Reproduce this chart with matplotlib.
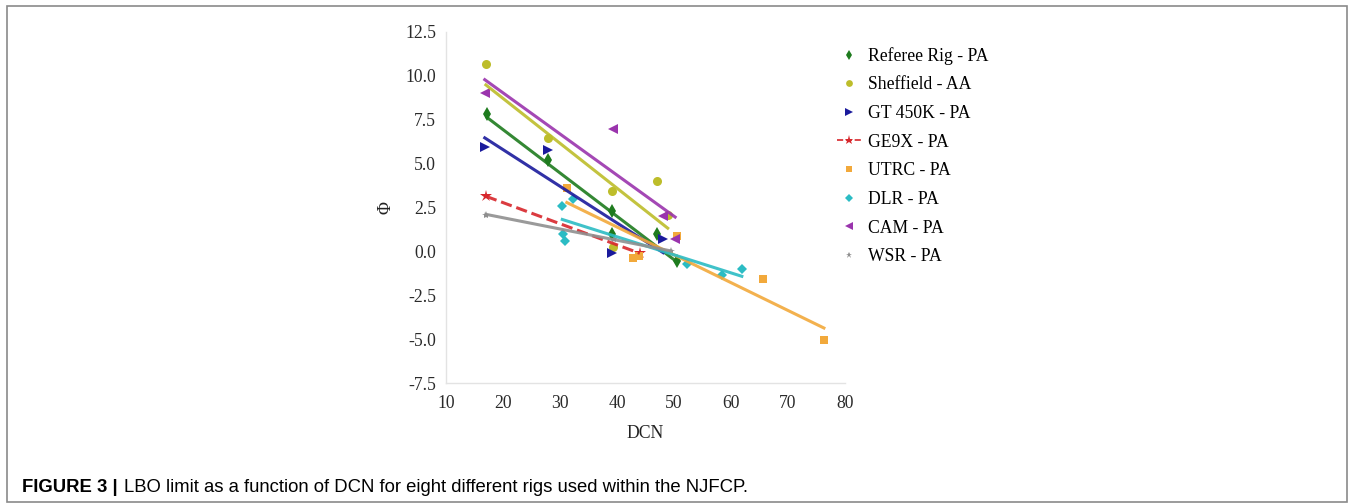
import numpy as np
import matplotlib
matplotlib.use("Agg")
from matplotlib import pyplot as plt
from matplotlib.lines import Line2D
from matplotlib.patches import Rectangle

# LBO limit (phi) against DCN, one pair of lists per rig
referee_dcn = [17.2, 27.9, 39.1, 39.1, 47.0, 50.5]
referee_phi = [7.8, 5.2, 2.3, 1.0, 1.0, -0.57]

sheffield_dcn = [17.0, 27.9, 39.1, 39.3, 47.0, 48.9]
sheffield_phi = [10.7, 6.46, 3.43, 0.23, 4.0, 2.1]

gt450k_dcn = [16.8, 27.9, 39.1, 48.1]
gt450k_phi = [5.95, 5.8, -0.1, 0.7]

ge9x_dcn = [17.0, 44.0]
ge9x_phi = [3.14, -0.11]

utrc_dcn = [31.2, 42.8, 43.8, 50.5, 65.6, 76.3]
utrc_phi = [3.6, -0.4, -0.25, 0.9, -1.6, -5.05]

dlr_dcn = [30.4, 30.5, 30.9, 32.3, 52.3, 58.4, 61.9]
dlr_phi = [2.6, 1.0, 0.6, 3.0, -0.74, -1.33, -1.03]

cam_dcn = [16.8, 39.3, 48.1, 50.2]
cam_phi = [9.0, 7.0, 2.0, 0.7]

wsr_dcn = [17.0, 39.5, 49.5]
wsr_phi = [2.1, 0.7, 0.0]

rigs = [
    # label, x, y, marker, size, colour, trendline style
    ("Referee Rig - PA", referee_dcn, referee_phi, "d", 7, "#1e7b1e", "-"),
    ("Sheffield - AA", sheffield_dcn, sheffield_phi, "o", 6.5, "#bdbd2a", "-"),
    ("GT 450K - PA", gt450k_dcn, gt450k_phi, ">", 7, "#1a1a9c", "-"),
    ("GE9X - PA", ge9x_dcn, ge9x_phi, "*", 9, "#d7262b", "--"),
    ("UTRC - PA", utrc_dcn, utrc_phi, "s", 6, "#f2a93b", "-"),
    ("DLR - PA", dlr_dcn, dlr_phi, "D", 5, "#2bbcc4", "-"),
    ("CAM - PA", cam_dcn, cam_phi, "<", 7, "#9a34ad", "-"),
    ("WSR - PA", wsr_dcn, wsr_phi, "*", 6, "#8f8f8f", "-"),
]

serif = ["Liberation Serif", "DejaVu Serif"]
plt.rcParams["font.family"] = serif
plt.rcParams["font.size"] = 12.7

W, H = 1354, 504
fig = plt.figure(figsize=(W / 100, H / 100), dpi=100)
ax = fig.add_axes([446 / W, 1 - 383 / H, 399 / W, 351 / H])

handles = []
for label, x, y, marker, size, colour, style in rigs:
    x = np.array(x)
    y = np.array(y)
    ax.plot(x, y, linestyle="none", marker=marker, markersize=size,
            color=colour, markeredgewidth=0, zorder=2)

    # linear trendline over the range of the data
    slope, icpt = np.polyfit(x, y, 1)
    xs = np.array([x.min(), x.max()])
    ax.plot(xs, slope * xs + icpt, linestyle=style, color=colour,
            linewidth=2.2, alpha=0.9, zorder=3)

    handles.append(Line2D([], [], marker=marker, markersize=size * 0.75,
                          markeredgewidth=0, color=colour,
                          linestyle=style if style == "--" else "none",
                          linewidth=1.2, label=label))

ax.set_xlim(10, 80)
ax.set_ylim(-7.5, 12.5)
ax.set_xticks(np.arange(10, 81, 10))
ax.set_yticks(np.arange(-7.5, 12.6, 2.5))
ax.yaxis.set_major_formatter(matplotlib.ticker.FormatStrFormatter("%.1f"))
ax.tick_params(length=0, labelsize=12.7, colors="#2a2a2a")
ax.tick_params(axis="x", pad=9)
ax.tick_params(axis="y", pad=7)

for side in ("top", "right"):
    ax.spines[side].set_visible(False)
for side in ("left", "bottom"):
    ax.spines[side].set_color("#e3e3e3")
    ax.spines[side].set_linewidth(1)

ax.set_xlabel("DCN", fontsize=12.7, labelpad=9, color="#222222")
ax.set_ylabel("Φ", fontsize=12.7, labelpad=8, color="#222222")

fig.legend(handles=handles, loc="upper left",
           bbox_to_anchor=(828 / W, 1 - 38 / H), frameon=False,
           borderpad=0, handlelength=1.4, handletextpad=0.35,
           labelspacing=0.66, fontsize=12.7)

# frame round the whole figure and the caption underneath
fig.add_artist(Rectangle((7 / W, 2 / H), 1340 / W, 496 / H,
                         transform=fig.transFigure, fill=False,
                         edgecolor="#8a8a8a", linewidth=1.2))
cap = fig.text(22 / W, 1 - 487 / H, "FIGURE 3 |", fontsize=13.3,
               family=["Liberation Sans", "DejaVu Sans"], weight="bold",
               va="center", ha="left")
fig.canvas.draw()
bb = cap.get_window_extent()
fig.text((bb.x1 + 6) / W, 1 - 487 / H,
         "LBO limit as a function of DCN for eight different rigs used within the NJFCP.",
         fontsize=13.3, family=["Liberation Sans", "DejaVu Sans"],
         va="center", ha="left")

fig.savefig("out.png", dpi=100)
